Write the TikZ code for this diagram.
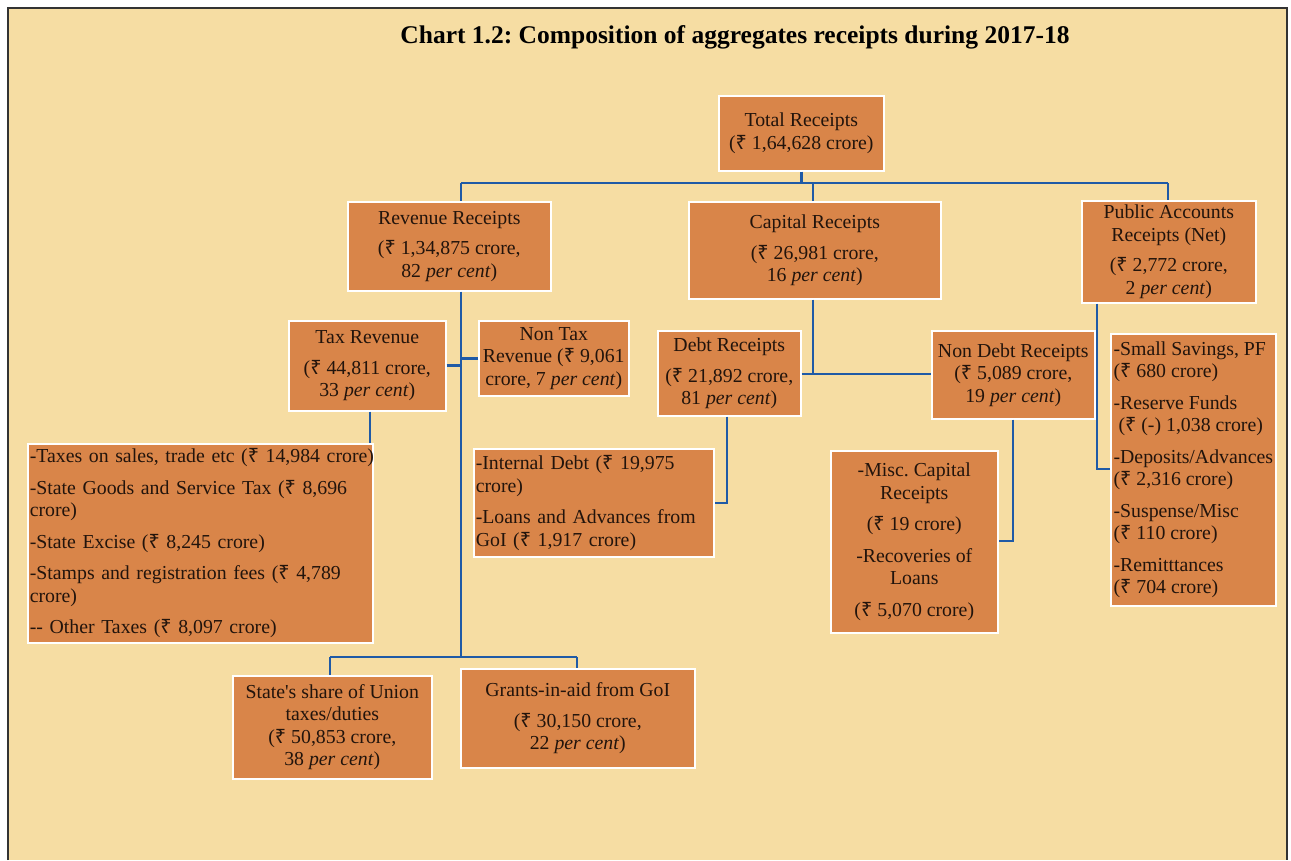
\documentclass[tikz,border=0pt]{standalone}
\usepackage{fontspec}
\setmainfont{Liberation Serif}
\newfontfamily\rupfont{Noto Sans}
\newcommand\Rs{{\rupfont\char"20B9}}
\newcommand\sq{\XeTeXglyph\XeTeXcharglyph"27\relax}
\frenchspacing
\definecolor{bgpaper}{HTML}{F6DDA3}
\definecolor{boxfill}{HTML}{D98549}
\definecolor{linkblue}{HTML}{1F5AA6}
\definecolor{inktext}{HTML}{22140C}
\begin{document}
\begin{tikzpicture}[x=1pt,y=-1pt,
  box/.style={draw=white, line width=1.6pt, fill=boxfill, text=inktext, inner sep=1pt,
    anchor=north west, align=center, font=\fontsize{19.8}{22.5}\selectfont},
  listbox/.style={box, align=left},
  link/.style={draw=linkblue, line width=2.8pt}]
\useasboundingbox (0,0) rectangle (1291,860);
\fill[white] (0,0) rectangle (1291,860);
\fill[bgpaper] (8,8) rectangle (1287,860);
\draw[line width=1.6pt, black!80] (8,860) -- (8,8) -- (1287,8) -- (1287,860);
\node[font=\fontsize{25.5}{30}\selectfont\bfseries, text=black] (title) at (735,37)
  {Chart 1.2: Composition of aggregates receipts during 2017-18};

% boxes
\node[box, minimum width=165pt, minimum height=75pt] (total) at (718,95)
  {Total Receipts\\(\Rs{} 1,64,628 crore)};
\node[box, minimum width=203pt, minimum height=89pt] (rev) at (347,201)
  {Revenue Receipts\\[8pt](\Rs{} 1,34,875 crore,\\82 \textit{per cent})};
\node[box, minimum width=252pt, minimum height=97pt] (cap) at (688,201)
  {Capital Receipts\\[8pt](\Rs{} 26,981 crore,\\16 \textit{per cent})};
\node[box, minimum width=174pt, minimum height=102pt] (pub) at (1081,200)
  {Public Accounts\\Receipts (Net)\\[8pt](\Rs{} 2,772 crore,\\2 \textit{per cent})};
\node[box, minimum width=157pt, minimum height=90pt] (tax) at (288,320)
  {Tax Revenue\\[8pt](\Rs{} 44,811 crore,\\33 \textit{per cent})};
\node[box, minimum width=150pt, minimum height=75pt] (nontax) at (478,320)
  {Non Tax\\Revenue (\Rs{} 9,061\\crore, 7 \textit{per cent})};
\node[box, minimum width=143pt, minimum height=85pt] (debt) at (657,330)
  {Debt Receipts\\[8pt](\Rs{} 21,892 crore,\\81 \textit{per cent})};
\node[box, minimum width=163pt, minimum height=88pt] (nondebt) at (931,330)
  {Non Debt Receipts\\(\Rs{} 5,089 crore,\\19 \textit{per cent})};
\node[listbox, minimum width=165pt, minimum height=272pt] (pal) at (1110,333)
  {-Small Savings, PF\\(\Rs{} 680 crore)\\[9pt]-Reserve Funds\\\ (\Rs{} (-) 1,038 crore)\\[9pt]-Deposits/Advances\\(\Rs{} 2,316 crore)\\[9pt]-Suspense/Misc\\(\Rs{} 110 crore)\\[9pt]-Remitttances\\(\Rs{} 704 crore)};
\node[listbox, minimum width=345pt, minimum height=199pt, text width=341pt] (taxlist) at (27,443)
  {\mbox{-Taxes on sales, trade etc (\Rs{} 14,984 crore)}\\[9pt]\mbox{-State Goods and Service Tax (\Rs{} 8,696}\\crore)\\[9pt]\mbox{-State Excise (\Rs{} 8,245 crore)}\\[9pt]\mbox{-Stamps and registration fees (\Rs{} 4,789}\\crore)\\[9pt]\mbox{-{}- Other Taxes (\Rs{} 8,097 crore)}};
\node[listbox, minimum width=240pt, minimum height=108pt, text width=236pt] (intdebt) at (473,448)
  {-Internal Debt (\Rs{} 19,975\\crore)\\[9pt]-Loans and Advances from\\GoI (\Rs{} 1,917 crore)};
\node[box, minimum width=167pt, minimum height=182pt] (misc) at (830,450)
  {-Misc. Capital\\Receipts\\[9pt](\Rs{} 19 crore)\\[9pt]-Recoveries of\\Loans\\[9pt](\Rs{} 5,070 crore)};
\node[box, minimum width=199pt, minimum height=103pt] (share) at (232,675)
  {State\sq s share of Union\\taxes/duties\\(\Rs{} 50,853 crore,\\38 \textit{per cent})};
\node[box, minimum width=234pt, minimum height=99pt] (grants) at (460,668)
  {Grants-in-aid from GoI\\[8pt](\Rs{} 30,150 crore,\\22 \textit{per cent})};

% junction coordinates
\coordinate (busL) at (461,183);
\coordinate (busR) at (1168,183);
\coordinate (rs) at (461,657);
\coordinate (bL) at (330,657);
\coordinate (bR) at (577,657);
\coordinate (ts) at (370,0);
\coordinate (cj) at (813,374);
\coordinate (dj) at (727,503);
\coordinate (nj) at (1013,541);
\coordinate (pj) at (1097,469);

% connectors
\draw[link] (total.south) -- (total.south |- busL);
\draw[link] (busL) -- (busR);
\draw[link] (busL) -- (busL |- rev.north);
\draw[link] (cap.north -| cj) -- (cj |- busL);
\draw[link] (busR) -- (busR |- pub.north);
\draw[link] (rs |- rev.south) -- (rs);
\draw[link] (tax.east) -- (tax.east -| rs);
\draw[link] (nontax.west) -- (nontax.west -| rs);
\draw[link] (bL) -- (bR);
\draw[link] (bL) -- (bL |- share.north);
\draw[link] (bR) -- (bR |- grants.north);
\draw[link] (tax.south -| ts) -- (taxlist.north -| ts);
\draw[link] (cap.south -| cj) -- (cj);
\draw[link] (debt.east |- cj) -- (nondebt.west |- cj);
\draw[link] (debt.south -| dj) -- (dj) -- (intdebt.east |- dj);
\draw[link] (nondebt.south -| nj) -- (nj) -- (misc.east |- nj);
\draw[link] (pub.south -| pj) -- (pj) -- (pal.west |- pj);
\end{tikzpicture}
\end{document}
